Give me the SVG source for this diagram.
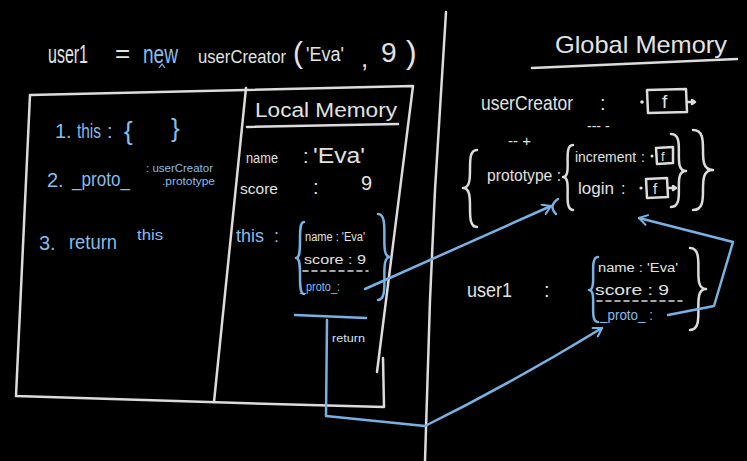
<svg xmlns="http://www.w3.org/2000/svg" width="747" height="461" viewBox="0 0 747 461">
<defs>
<style>
text { font-family: "Liberation Sans", "DejaVu Sans", sans-serif; }
.w { fill: #e2e2e2; }
.b { fill: #86bdec; }
.wl { fill: none; stroke: #dcdcdc; stroke-width: 2.5; stroke-linecap: round; stroke-linejoin: round; }
.bl { fill: none; stroke: #78b2e4; stroke-width: 2.5; stroke-linecap: round; stroke-linejoin: round; }
.dash { stroke-dasharray: 5 4; stroke-width: 1.6; }
</style>
<marker id="ah" viewBox="0 0 12 12" refX="10" refY="6" markerWidth="12" markerHeight="12" orient="auto" markerUnits="userSpaceOnUse">
<path d="M2,1 L10,6 L2,11" fill="none" stroke="#78b2e4" stroke-width="2" stroke-linecap="round" stroke-linejoin="round"/>
</marker>
</defs>
<rect width="747" height="461" fill="#000"/>

<!-- page divider -->
<path class="wl" d="M446,12 L435,190 L430,300 L425,461"/>

<g id="call-line">
<text class="w" x="48" y="63" font-size="26" textLength="40" lengthAdjust="spacingAndGlyphs">user1</text>
<text class="w" x="115" y="62" font-size="26">=</text>
<text class="b" x="143" y="63" font-size="26" textLength="35" lengthAdjust="spacingAndGlyphs">new</text>
<path d="M159,68 L162,64 L165,68" fill="none" stroke="#86bdec" stroke-width="1.2"/>
<text class="w" x="198" y="63" font-size="18" textLength="88" lengthAdjust="spacingAndGlyphs" style="font-size:18px">userCreator</text>
<text class="w" x="293" y="63" font-size="30">(</text>
<text class="w" x="306" y="61" font-size="20" textLength="38" lengthAdjust="spacingAndGlyphs">'Eva'</text>
<text class="w" x="361" y="67" font-size="26">,</text>
<text class="w" x="381" y="62" font-size="28">9</text>
<text class="w" x="406" y="63" font-size="32">)</text>
</g>

<g id="execution-context">
<path class="wl" d="M30,95 L413,86 L377,372 M383,358 L384,407 L240,403 L16,396 L30,95"/>
<path class="wl" d="M246,88 L214,402"/>
<text class="b" x="55" y="138" font-size="20">1.</text>
<text class="b" x="77" y="138" font-size="20" textLength="24" lengthAdjust="spacingAndGlyphs">this</text>
<text class="b" x="107" y="138" font-size="20">:</text>
<text class="b" x="124" y="140" font-size="26">{</text>
<text class="b" x="171" y="137" font-size="26">}</text>
<text class="b" x="47" y="187" font-size="20">2.</text>
<text class="b" x="72" y="186" font-size="20" textLength="58" lengthAdjust="spacingAndGlyphs">_proto_</text>
<text class="b" x="146" y="172" font-size="11" textLength="67" lengthAdjust="spacingAndGlyphs">: userCreator</text>
<text class="b" x="162" y="185" font-size="11" textLength="53" lengthAdjust="spacingAndGlyphs">.prototype</text>
<text class="b" x="39" y="250" font-size="20">3.</text>
<text class="b" x="69" y="249" font-size="20" textLength="48" lengthAdjust="spacingAndGlyphs">return</text>
<text class="b" x="137" y="240" font-size="15" textLength="26" lengthAdjust="spacingAndGlyphs">this</text>
</g>

<g id="local-memory">
<text class="w" x="255" y="117" font-size="20" textLength="142" lengthAdjust="spacingAndGlyphs">Local Memory</text>
<path class="wl" d="M247,127 L398,124"/>
<text class="w" x="246" y="163" font-size="15" textLength="32" lengthAdjust="spacingAndGlyphs">name</text>
<text class="w" x="303" y="163" font-size="20">:</text>
<text class="w" x="313" y="163" font-size="22" textLength="52" lengthAdjust="spacingAndGlyphs">'Eva'</text>
<text class="w" x="240" y="194" font-size="15" textLength="38" lengthAdjust="spacingAndGlyphs">score</text>
<text class="w" x="313" y="194" font-size="20">:</text>
<text class="w" x="361" y="190" font-size="20">9</text>
</g>

<g id="this-object">
<text class="b" x="236" y="242" font-size="18" textLength="28" lengthAdjust="spacingAndGlyphs">this</text>
<text class="b" x="274" y="242" font-size="18">:</text>
<path class="bl" d="M304,222 C296,222 304,258 296,258 C304,258 296,294 304,294"/>
<path class="bl" d="M378,214 C391,214 378,257 390,257 C378,257 391,300 378,300"/>
<text class="w" x="305" y="241" font-size="12" textLength="60" lengthAdjust="spacingAndGlyphs">name : 'Eva'</text>
<text class="w" x="304" y="264" font-size="13" textLength="62" lengthAdjust="spacingAndGlyphs">score : 9</text>
<path class="wl dash" d="M303,271 L368,271"/>
<text class="b" x="300" y="291" font-size="13" textLength="40" lengthAdjust="spacingAndGlyphs">_proto_:</text>
</g>

<g id="global-memory">
<text class="w" x="555" y="53" font-size="24" textLength="172" lengthAdjust="spacingAndGlyphs">Global Memory</text>
<path class="wl" d="M532,68 L737,59"/>
</g>

<g id="usercreator-entry">
<text class="w" x="481" y="110" font-size="20" textLength="92" lengthAdjust="spacingAndGlyphs">userCreator</text>
<text class="w" x="600" y="110" font-size="20">:</text>
<circle cx="642" cy="102" r="1.8" fill="#e2e2e2"/>
<path class="wl" d="M647,90 L686,89 L687,112 L648,113 Z"/>
<text class="w" x="662" y="108" font-size="19">f</text>
<path class="wl" d="M687,102 L694,102 M692,100 L695,102 L692,104" stroke-width="1.6"/>
<text class="w" x="508" y="146" font-size="15">-- +</text>
<text class="w" x="587" y="131" font-size="14">--- -</text>
</g>

<g id="prototype-object">
<path class="wl" d="M477,150 C463,150 477,188 463,188 C477,188 463,227 477,227"/>
<path class="wl" d="M693,130 C713,130 693,170 713,170 C693,170 713,210 693,210"/>
<text class="w" x="487" y="181" font-size="17" textLength="74" lengthAdjust="spacingAndGlyphs">prototype :</text>
<path class="wl" d="M573,145 C562,145 573,177 563,177 C573,177 562,210 573,210"/>
<path class="wl" d="M671,134 C687,134 671,171 686,171 C671,171 687,207 671,207"/>
<text class="w" x="575" y="162" font-size="14" textLength="61" lengthAdjust="spacingAndGlyphs">increment</text>
<text class="w" x="641" y="162" font-size="14">:</text>
<circle cx="652" cy="156" r="1.5" fill="#e2e2e2"/>
<path class="wl" d="M656,148 L673,147 L673,163 L657,164 Z" stroke-width="2"/>
<text class="w" x="661" y="161" font-size="13">f</text>
<text class="w" x="578" y="194" font-size="16" textLength="36" lengthAdjust="spacingAndGlyphs">login</text>
<text class="w" x="621" y="194" font-size="16">:</text>
<circle cx="641" cy="188" r="1.6" fill="#e2e2e2"/>
<path class="wl" d="M646,179 L667,178 L668,197 L647,198 Z" stroke-width="2"/>
<text class="w" x="653" y="194" font-size="15">f</text>
<path class="wl" d="M668,188 L675,188 M673,186 L676,188 L673,190" stroke-width="1.6"/>
</g>

<g id="user1-object">
<text class="w" x="467" y="297" font-size="20" textLength="45" lengthAdjust="spacingAndGlyphs">user1</text>
<text class="w" x="544" y="297" font-size="20">:</text>
<path class="bl" d="M598,257 C588,257 598,290 589,290 C598,290 588,322 598,322"/>
<path class="wl" d="M690,248 C707,248 690,289 706,289 C690,289 707,330 690,330"/>
<text class="w" x="598" y="272" font-size="12" textLength="80" lengthAdjust="spacingAndGlyphs">name : 'Eva'</text>
<text class="w" x="595" y="295" font-size="15" textLength="74" lengthAdjust="spacingAndGlyphs">score : 9</text>
<path class="wl dash" d="M597,301 L682,301"/>
<text class="b" x="600" y="320" font-size="14" textLength="53" lengthAdjust="spacingAndGlyphs">_proto_ :</text>
</g>

<g id="connectors">
<path class="bl" d="M365,289 L551,206" marker-end="url(#ah)"/>
<path class="bl" d="M558,199 Q548,206 556,214" stroke-width="2"/>
<path class="bl" d="M295,315 L366,318"/>
<path class="bl" d="M327,320 L326,416 L425,426"/>
<path class="bl" d="M425,426 Q512,383 602,328" marker-end="url(#ah)"/>
<text x="332" y="342" font-size="11" fill="#cfe3f5" textLength="33" lengthAdjust="spacingAndGlyphs">return</text>
<path class="bl" d="M668,315 L714,306 L733,242 L639,218" marker-end="url(#ah)"/>
</g>
</svg>
